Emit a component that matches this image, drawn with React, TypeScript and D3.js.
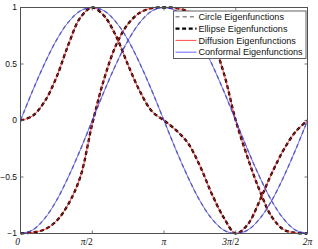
import React from "react";
import * as d3 from "d3";

// x positions in units of pi/12
const thetaTwelfths = [0, 1, 2, 3, 4, 5, 6, 7, 8, 9, 10, 11, 12, 13, 14, 15, 16, 17, 18, 19, 20, 21, 22, 23, 24];

const circleA = [0, 0.26, 0.5, 0.71, 0.87, 0.97, 1, 0.97, 0.87, 0.71, 0.5, 0.26, 0, -0.26, -0.5, -0.71, -0.87, -0.97, -1, -0.97, -0.87, -0.71, -0.5, -0.26, 0];
const circleB = [-1, -0.97, -0.87, -0.71, -0.5, -0.26, 0, 0.26, 0.5, 0.71, 0.87, 0.97, 1, 0.97, 0.87, 0.71, 0.5, 0.26, 0, -0.26, -0.5, -0.71, -0.87, -0.97, -1];

const ellipseA = [0, 0.04, 0.165, 0.38, 0.67, 0.91, 1.0, 0.925, 0.745, 0.49, 0.255, 0.08, 0.0, -0.085, -0.2, -0.4, -0.65, -0.86, -1.0, -0.92, -0.71, -0.47, -0.26, -0.1, 0];
const ellipseB = [-1, -0.99, -0.965, -0.89, -0.74, -0.5, -0.03, 0.37, 0.67, 0.855, 0.955, 0.995, 1.0, 0.995, 0.965, 0.89, 0.72, 0.42, 0.0, -0.33, -0.62, -0.85, -0.965, -0.995, -1];

const diffusionA = ellipseA;
const diffusionB = ellipseB;
const conformalA = circleA;
const conformalB = circleB;

const legendLabels = ["Circle Eigenfunctions", "Ellipse Eigenfunctions", "Diffusion Eigenfunctions", "Conformal Eigenfunctions"];

const xTickTwelfths = [0, 6, 12, 18, 24];
const xTickLabels = [["0", ""], ["π", "/2"], ["π", ""], ["3π", "/2"], ["2π", ""]];
const xTickDx = [-3, -5.5, 0, -5, 0];
const yTicks = [-1, -0.5, 0, 0.5, 1];
const yTickLabels = ["−1", "−0.5", "0", "0.5", "1"];

const W = 318, H = 249;
const L = 20.5, R = 307.5, T = 7.5, B = 233.5;

const styles = [
  { stroke: "#8a8a8a", width: 1.5, dash: "4,3.2" },
  { stroke: "#000000", width: 2.3, dash: "4,2.6" },
  { stroke: "#ff1a1a", width: 0.8, dash: null },
  { stroke: "#3a3aff", width: 0.75, dash: null },
];

export default function App() {
  const x = d3.scaleLinear().domain([0, 2 * Math.PI]).range([L, R]);
  const y = d3.scaleLinear().domain([-1, 1]).range([B, T]);
  const line = d3
    .line<number>()
    .x((_, i) => x((thetaTwelfths[i] * Math.PI) / 12))
    .y((d) => y(d))
    .curve(d3.curveCatmullRom.alpha(0.5));

  const series = [
    [circleA, circleB],
    [ellipseA, ellipseB],
    [diffusionA, diffusionB],
    [conformalA, conformalB],
  ];

  const axisColor = "#505050";
  const tickLen = 3;

  return (
    <svg width={W} height={H} style={{ position: "absolute", left: 0, top: 0, background: "#fff" }}>
      <defs>
        <clipPath id="plotclip">
          <rect x={L} y={T - 1.5} width={R - L} height={B - T + 3} />
        </clipPath>
      </defs>
      <rect x={0} y={0} width={W} height={H} fill="#fff" />
      <g clipPath="url(#plotclip)">
        {series.map((pair, si) =>
          pair.map((vals, k) => (
            <path
              key={`${si}-${k}`}
              d={line(vals) || ""}
              fill="none"
              stroke={styles[si].stroke}
              strokeWidth={styles[si].width}
              strokeDasharray={styles[si].dash || undefined}
            />
          ))
        )}
      </g>
      {/* box */}
      <rect x={L} y={T} width={R - L} height={B - T} fill="none" stroke={axisColor} strokeWidth={1} />
      {/* x ticks */}
      {xTickTwelfths.map((t, i) => {
        const px = x((t * Math.PI) / 12);
        return (
          <g key={`xt${i}`}>
            <line x1={px} x2={px} y1={B} y2={B - tickLen} stroke={axisColor} strokeWidth={0.8} />
            <line x1={px} x2={px} y1={T} y2={T + tickLen} stroke={axisColor} strokeWidth={0.8} />
            <text
              x={px + xTickDx[i]}
              y={244.5}
              textAnchor="middle"
              fontFamily="'Liberation Serif', serif"
              fontSize={9.5}
              fill="#111"
            >
              <tspan fontStyle="italic">{xTickLabels[i][0]}</tspan>
              {xTickLabels[i][1] ? <tspan>{xTickLabels[i][1]}</tspan> : null}
            </text>
          </g>
        );
      })}
      {/* y ticks */}
      {yTicks.map((v, i) => {
        const py = y(v);
        return (
          <g key={`yt${i}`}>
            <line x1={L} x2={L + tickLen} y1={py} y2={py} stroke={axisColor} strokeWidth={0.8} />
            <line x1={R} x2={R - tickLen} y1={py} y2={py} stroke={axisColor} strokeWidth={0.8} />
            <text
              x={17}
              y={py}
              dy="0.35em"
              textAnchor="end"
              fontFamily="'Liberation Sans', Arial, sans-serif"
              fontSize={8.5}
              fill="#111"
            >
              {yTickLabels[i]}
            </text>
          </g>
        );
      })}
      {/* legend */}
      <g>
        <rect x={173.5} y={11} width={132.5} height={47.5} fill="#fff" stroke={axisColor} strokeWidth={0.9} />
        {legendLabels.map((lab, i) => {
          const ly = 16.8 + i * 11.8;
          return (
            <g key={`lg${i}`}>
              <line
                x1={175.5}
                x2={196.5}
                y1={ly}
                y2={ly}
                stroke={styles[i].stroke}
                strokeWidth={styles[i].width}
                strokeDasharray={styles[i].dash || undefined}
              />
              <text
                x={198.5}
                y={ly}
                dy="0.35em"
                fontFamily="'Liberation Sans', Arial, sans-serif"
                fontSize={9.1}
                fill="#111"
              >
                {lab}
              </text>
            </g>
          );
        })}
      </g>
    </svg>
  );
}
